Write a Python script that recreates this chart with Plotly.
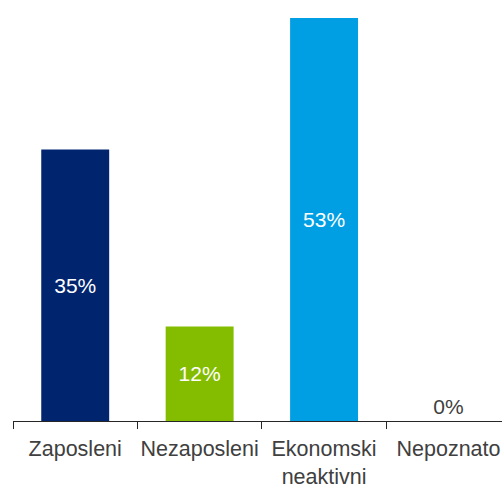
import plotly.graph_objects as go

categories = ["Zaposleni", "Nezaposleni", "Ekonomski<br>neaktivni", "Nepoznato"]
values = [35.3, 12.3, 52.4, 0.0]
labels = ["35%", "12%", "53%", "0%"]
colors = ["#00256E", "#84BD00", "#009FE3", "#009FE3"]

fig = go.Figure(go.Bar(
    x=categories,
    y=values,
    text=labels,
    marker=dict(color=colors, line=dict(width=0)),
    textposition=["inside", "inside", "inside", "outside"],
    insidetextanchor="middle",
    textfont=dict(color=["white", "white", "white", "#404040"], size=21,
                  family="Arial, Liberation Sans"),
    constraintext="none",
    cliponaxis=False,
    width=0.546,
    hoverinfo="skip",
))

fig.update_layout(
    width=502, height=489,
    margin=dict(l=13, r=0, t=0, b=68, autoexpand=False),
    paper_bgcolor="white", plot_bgcolor="white",
    showlegend=False,
    font=dict(family="Arial, Liberation Sans", size=21, color="#404040"),
    xaxis=dict(
        range=[-0.5, 3.43],
        automargin=False,
        tickangle=0,
        showline=True, linecolor="#262626", linewidth=1,
        ticks="outside", tickson="boundaries", ticklen=7, tickcolor="#262626",
        tickfont=dict(size=21.5, color="#404040"),
        ticklabelstandoff=8,
        showgrid=False, zeroline=False,
    ),
    yaxis=dict(
        range=[0, 54.75], visible=False, showgrid=False, zeroline=False,
        automargin=False,
    ),
)

fig.write_html(
    "out.html",
    config={"displayModeBar": False},
    post_script="document.body.style.margin='0';document.body.style.overflow='hidden';",
)
